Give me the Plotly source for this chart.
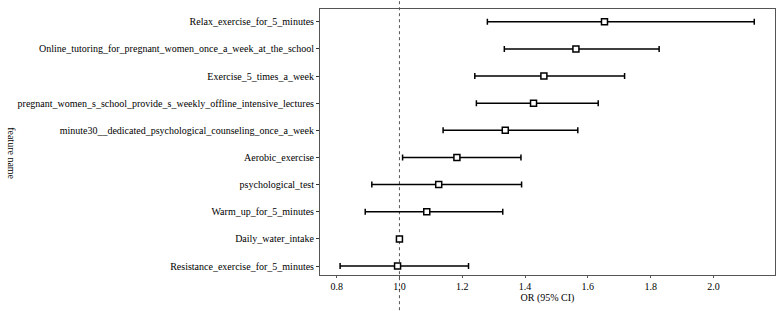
import plotly.graph_objects as go

features = [
    "Resistance_exercise_for_5_minutes",
    "Daily_water_intake",
    "Warm_up_for_5_minutes",
    "psychological_test",
    "Aerobic_exercise",
    "minute30__dedicated_psychological_counseling_once_a_week",
    "pregnant_women_s_school_provide_s_weekly_offline_intensive_lectures",
    "Exercise_5_times_a_week",
    "Online_tutoring_for_pregnant_women_once_a_week_at_the_school",
    "Relax_exercise_for_5_minutes",
]
or_value = [0.994, 1.000, 1.087, 1.125, 1.183, 1.337, 1.427, 1.460, 1.562, 1.653]
ci_low = [0.811, 0.999, 0.891, 0.912, 1.010, 1.139, 1.245, 1.240, 1.334, 1.280]
ci_high = [1.220, 1.001, 1.329, 1.389, 1.387, 1.568, 1.633, 1.717, 1.827, 2.130]
x_ticks = [0.8, 1.0, 1.2, 1.4, 1.6, 1.8, 2.0]
ref_value = 1.0

plus = [h - v for h, v in zip(ci_high, or_value)]
minus = [v - l for v, l in zip(or_value, ci_low)]

font = "Liberation Serif"

fig = go.Figure()
fig.add_trace(go.Scatter(
    x=or_value, y=features, mode="markers",
    marker=dict(symbol="square", size=6, color="white",
                line=dict(color="black", width=1.5)),
    error_x=dict(type="data", array=plus, arrayminus=minus,
                 color="black", thickness=1.5, width=3),
    showlegend=False,
))

fig.add_shape(type="line", xref="x", yref="paper",
              x0=ref_value, x1=ref_value, y0=-0.2, y1=1.1,
              line=dict(color="#555555", width=1, dash="dot"), layer="below")

fig.add_annotation(text="feature name", xref="paper", yref="paper",
                   x=-316/455, y=0.46, textangle=90, showarrow=False,
                   font=dict(family=font, size=10, color="black"))

fig.update_layout(
    width=780, height=311,
    margin=dict(l=320, r=5, t=9, b=36),
    plot_bgcolor="white", paper_bgcolor="white",
    font=dict(family=font, size=10, color="black"),
    xaxis=dict(range=[0.747, 2.196], tickvals=x_ticks,
               ticktext=[f"{t:.1f}" for t in x_ticks],
               showgrid=False, zeroline=False, showline=True, mirror=True,
               linecolor="#555555", linewidth=1, ticks="outside", ticklen=2,
               tickcolor="#555555", automargin=False,
               title=dict(text="OR (95% CI)", standoff=2,
                          font=dict(family=font, size=10))),
    yaxis=dict(range=[-0.33, 9.47], showgrid=False, zeroline=False,
               showline=True, mirror=True, linecolor="#555555", linewidth=1,
               ticks="outside", ticklen=3, tickcolor="#333333",
               automargin=False),
)

fig.write_html("out.html")
